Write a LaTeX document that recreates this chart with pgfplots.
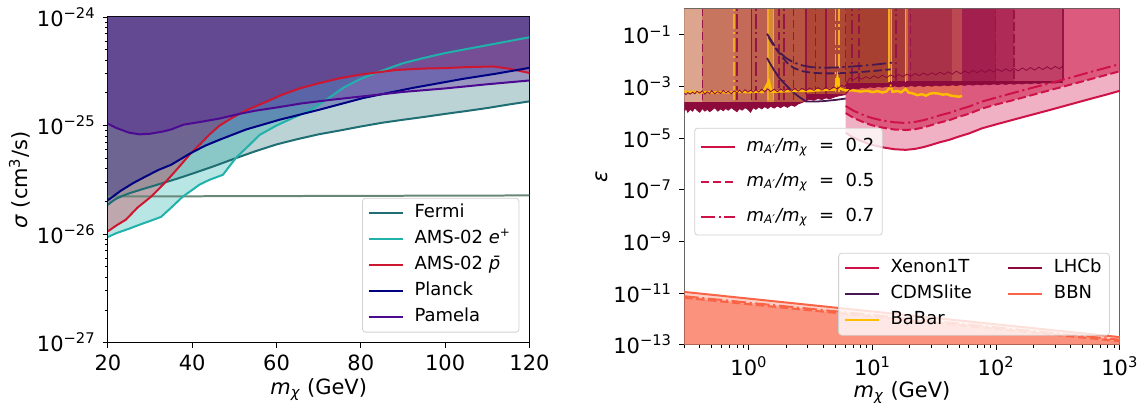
\documentclass[border=0pt]{standalone}
\usepackage{fontspec}
\setmainfont{DejaVu Sans}
\usepackage{pgfplots}
\usepackage{pgfplotstable}
\pgfplotsset{compat=1.18}
\usepgfplotslibrary{fillbetween}

\definecolor{cfermi}{RGB}{31,110,116}
\definecolor{camse}{RGB}{32,178,170}
\definecolor{camsp}{RGB}{205,22,48}
\definecolor{cplanck}{RGB}{0,0,130}
\definecolor{cpamela}{RGB}{75,10,145}
\definecolor{crelic}{RGB}{105,135,120}
\definecolor{cxenon}{RGB}{206,18,72}
\definecolor{clhcb}{RGB}{140,10,60}
\definecolor{cvline}{RGB}{150,20,70}
\definecolor{ccdms}{RGB}{72,24,80}
\definecolor{cbabar}{RGB}{255,190,0}
\definecolor{cbabv}{RGB}{240,170,40}
\definecolor{cbbn}{RGB}{250,100,70}
\definecolor{cbaborange}{RGB}{235,120,55}
\definecolor{ba}{RGB}{219,165,142}
\definecolor{bb}{RGB}{200,117,96}
\definecolor{bc}{RGB}{196,106,88}
\definecolor{bd}{RGB}{190,96,80}
\definecolor{be}{RGB}{216,136,58}
\definecolor{bf}{RGB}{184,84,66}
\definecolor{bg}{RGB}{176,72,56}
\definecolor{bh}{RGB}{168,64,50}
\definecolor{bi}{RGB}{208,112,32}
\definecolor{bj}{RGB}{168,58,58}
\definecolor{bk}{RGB}{208,106,48}
\definecolor{bl}{RGB}{170,50,72}
\definecolor{bm}{RGB}{188,72,82}
\definecolor{bn}{RGB}{163,32,78}
\definecolor{bo}{RGB}{176,42,88}
\definecolor{bp}{RGB}{192,64,104}

\tikzset{mpldash/.style={dash pattern=on 4.2pt off 1.8pt},
         mpldashdot/.style={dash pattern=on 7.2pt off 1.8pt on 1.1pt off 1.8pt}}

% ---------- left panel data ----------
\pgfplotstableread{
x y
20 1.86e-26
21 2.0e-26
22 2.12e-26
23.5 2.25e-26
25 2.37e-26
28 2.58e-26
30 2.72e-26
33 2.95e-26
36 3.2e-26
40 3.6e-26
45 4.2e-26
50 4.95e-26
55 5.8e-26
60 6.7e-26
65 7.5e-26
70 8.3e-26
75 9.0e-26
80 9.8e-26
85 1.06e-25
90 1.13e-25
95 1.2e-25
100 1.28e-25
105 1.36e-25
110 1.45e-25
115 1.56e-25
120 1.67e-25
}\tfermi
\pgfplotstableread{
x y
20 9.4e-27
22 1.02e-26
25 1.12e-26
28 1.24e-26
30 1.32e-26
32.6 1.44e-26
35 1.75e-26
37.8 2.22e-26
40 2.55e-26
41.7 2.85e-26
44 3.15e-26
47.3 3.52e-26
49 4.3e-26
50.5 5.1e-26
53 6.3e-26
56 8.2e-26
60 1.0e-25
64 1.18e-25
68 1.38e-25
72 1.75e-25
76 2.25e-25
80 2.7e-25
85 3.2e-25
90 3.75e-25
95 4.2e-25
100 4.65e-25
110 5.5e-25
120 6.5e-25
}\tamse
\pgfplotstableread{
x y
20 1.06e-26
22 1.2e-26
24.3 1.36e-26
27 1.75e-26
30.3 2.22e-26
33.8 3.05e-26
36.5 4.0e-26
39.4 5.4e-26
42 6.8e-26
44 8.2e-26
46.5 1.0e-25
49.5 1.18e-25
52.8 1.38e-25
57.5 1.65e-25
61 1.9e-25
65.5 2.2e-25
70 2.45e-25
74.9 2.72e-25
80 2.95e-25
88.4 3.25e-25
95 3.35e-25
100 3.38e-25
105 3.45e-25
111.3 3.5e-25
115 3.35e-25
120 3.05e-25
}\tamsp
\pgfplotstableread{
x y
20 2.05e-26
23 2.5e-26
26 2.95e-26
29 3.4e-26
32 3.9e-26
35 4.35e-26
39.4 5.5e-26
43 6.5e-26
46.5 7.4e-26
52.8 9.2e-26
60.7 1.13e-25
70.2 1.4e-25
80.5 1.79e-25
92.3 2.22e-25
104.2 2.69e-25
112 3.0e-25
120 3.4e-25
}\tplanck
\pgfplotstableread{
x y
20 1.04e-25
22 9.5e-26
25 8.6e-26
27.5 8.3e-26
30 8.4e-26
33 8.8e-26
35 9.2e-26
38 1.02e-25
42 1.08e-25
46.5 1.16e-25
51.2 1.28e-25
55 1.37e-25
60.7 1.48e-25
66 1.6e-25
72.6 1.72e-25
82.8 1.9e-25
90 2.04e-25
100.2 2.2e-25
110 2.4e-25
120 2.6e-25
}\tpamela

% ---------- right panel data ----------
\pgfplotstableread{
x s d dd
6.06 1.6e-5 9.3e-5 1.75e-4
7 1.05e-5 6.1e-5 1.15e-4
8 7.9e-6 4.6e-5 8.7e-5
9 6.3e-6 3.65e-5 6.9e-5
10 5.4e-6 3.1e-5 5.9e-5
12 4.4e-6 2.55e-5 4.8e-5
15 3.7e-6 2.15e-5 4.1e-5
18.5 3.5e-6 2.05e-5 3.85e-5
22 3.8e-6 2.2e-5 4.2e-5
26 4.5e-6 2.6e-5 5.0e-5
30 5.5e-6 3.2e-5 6.0e-5
35 6.9e-6 4.0e-5 7.6e-5
41.5 8.5e-6 4.9e-5 9.4e-5
50 1.15e-5 6.7e-5 1.27e-4
60 1.5e-5 8.7e-5 1.65e-4
77 2.4e-5 1.4e-4 2.6e-4
100 3.4e-5 2.0e-4 3.7e-4
150 5.75e-5 3.3e-4 6.3e-4
200 8.3e-5 4.8e-4 9.1e-4
267 1.2e-4 7.0e-4 1.3e-3
400 2.04e-4 1.18e-3 2.2e-3
600 3.47e-4 2.0e-3 3.8e-3
800 5.0e-4 2.9e-3 5.5e-3
1000 6.8e-4 3.9e-3 7.4e-3
}\txenon
\pgfplotstableread{
x u l
0.300 5.5e-4 1.1e-4
0.310 4.8e-4 1.4e-4
0.320 5.8e-4 1.0e-4
0.335 5.0e-4 1.3e-4
0.350 6.0e-4 1.1e-4
0.365 5.2e-4 1.5e-4
0.380 6.5e-4 1.2e-4
0.400 5.5e-4 1.0e-4
0.420 6.8e-4 1.4e-4
0.440 5.0e-4 1.1e-4
0.460 6.2e-4 1.3e-4
0.480 5.3e-4 1.05e-4
0.500 6.8e-4 1.2e-4
0.530 5.2e-4 1.5e-4
0.560 6.3e-4 1.1e-4
0.590 5.4e-4 1.35e-4
0.620 7.0e-4 1.15e-4
0.650 5.6e-4 1.4e-4
0.680 6.5e-4 1.2e-4
0.720 5.2e-4 1.5e-4
0.760 6.8e-4 1.25e-4
0.800 5.6e-4 1.05e-4
0.840 7.2e-4 1.4e-4
0.880 5.8e-4 1.2e-4
0.930 7.5e-4 1.5e-4
0.980 6.0e-4 1.3e-4
1.030 7.2e-4 1.0e-4
1.080 6.0e-4 1.5e-4
1.140 7.5e-4 1.3e-4
1.200 6.0e-4 1.6e-4
1.270 7.8e-4 1.35e-4
1.340 6.2e-4 1.65e-4
1.420 8.0e-4 1.4e-4
1.500 6.3e-4 1.7e-4
1.600 7.8e-4 1.45e-4
1.700 6.2e-4 1.75e-4
1.800 8.0e-4 1.5e-4
1.920 6.4e-4 1.8e-4
2.050 8.2e-4 1.55e-4
2.200 6.5e-4 1.9e-4
2.350 8.4e-4 1.7e-4
2.500 6.6e-4 2.1e-4
2.700 8.5e-4 2.4e-4
2.900 6.8e-4 2.8e-4
3.100 8.8e-4 3.2e-4
3.350 7.0e-4 2.9e-4
3.600 9.0e-4 3.4e-4
3.900 7.2e-4 3.1e-4
4.200 9.2e-4 3.6e-4
4.500 7.4e-4 3.3e-4
4.850 9.5e-4 3.8e-4
5.200 8.0e-4 4.2e-4
5.600 1.1e-3 4.5e-4
6.000 1.0e-3 4.8e-4
6.5 2.1e-3 7.5e-4
7.0 1.75e-3 8.5e-4
7.6 2.3e-3 8.0e-4
8.2 1.9e-3 9.2e-4
8.8 2.4e-3 8.6e-4
9.5 2.0e-3 9.6e-4
10.3 2.6e-3 9.0e-4
11.1 2.1e-3 1.0e-3
12.0 2.7e-3 9.3e-4
13.0 2.2e-3 1.02e-3
14.0 2.8e-3 9.5e-4
15.1 2.3e-3 1.05e-3
16.3 2.9e-3 9.6e-4
17.6 2.4e-3 1.05e-3
19.0 3.0e-3 9.8e-4
20.5 2.5e-3 1.08e-3
22.1 3.2e-3 1.0e-3
23.9 2.6e-3 1.1e-3
25.8 3.3e-3 1.0e-3
27.9 2.7e-3 1.1e-3
30.1 3.4e-3 1.02e-3
32.5 2.8e-3 1.12e-3
35.1 3.6e-3 1.04e-3
37.9 2.9e-3 1.14e-3
40.9 3.7e-3 1.06e-3
44.2 3.0e-3 1.16e-3
47.7 3.9e-3 1.08e-3
51.5 3.1e-3 1.18e-3
55.6 4.0e-3 1.1e-3
60.0 3.2e-3 1.2e-3
64.8 4.2e-3 1.12e-3
70.0 3.4e-3 1.22e-3
75.6 4.3e-3 1.14e-3
81.6 3.5e-3 1.24e-3
88.1 4.5e-3 1.16e-3
95.1 3.6e-3 1.26e-3
102.7 4.6e-3 1.18e-3
110.9 3.8e-3 1.28e-3
119.7 4.8e-3 1.2e-3
129.3 3.9e-3 1.3e-3
139.6 5.0e-3 1.22e-3
150.7 4.0e-3 1.32e-3
162.7 5.2e-3 1.25e-3
175.7 4.2e-3 1.35e-3
189.7 5.4e-3 1.28e-3
204.8 4.3e-3 1.38e-3
221.1 5.6e-3 1.3e-3
238.7 4.5e-3 1.4e-3
257.7 5.8e-3 1.32e-3
278.2 4.6e-3 1.42e-3
300.3 6.0e-3 1.35e-3
324.2 4.8e-3 1.45e-3
345 6.2e-3 1.4e-3
}\tlhcb
\pgfplotstableread{
x y
0.30 6.5e-4
0.33 6.0e-4
0.36 6.2e-4
0.40 5.8e-4
0.45 6.0e-4
0.50 5.8e-4
0.60 6.0e-4
0.70 5.8e-4
0.80 6.2e-4
1.00 6.0e-4
1.20 6.3e-4
1.30 6.0e-4
1.45 1.6e-3
1.52 6.2e-4
2.0 6.5e-4
2.5 6.8e-4
3.0 6.6e-4
3.5 7.0e-4
4.0 7.2e-4
4.6 7.5e-4
5.0 7.6e-4
5.2 2.2e-3
5.4 8.5e-4
6 7.0e-4
7 7.0e-4
8 6.3e-4
9 6.8e-4
10 6.0e-4
11 6.6e-4
12 5.8e-4
13 6.4e-4
14 1.0e-3
14.5 6.2e-4
16 6.6e-4
17 5.9e-4
18.5 8.0e-4
19.5 5.8e-4
21 5.4e-4
23 4.6e-4
25 5.0e-4
27 4.4e-4
29 5.2e-4
31 5.5e-4
34 5.3e-4
37 4.8e-4
40 5.0e-4
43 4.4e-4
46 4.2e-4
50 4.0e-4
53 4.3e-4
}\tbabar

\pgfplotsset{
  mpl/.style={
    scale only axis, tick align=outside, tick pos=left,
    major tick length=2.6pt, minor tick length=1.5pt,
    every tick/.style={black, line width=0.45pt},
    axis line style={line width=0.5pt},
    tick label style={font=\fontsize{10.5}{12}\selectfont},
    label style={font=\fontsize{10.5}{12}\selectfont},
  },
  mpllegend/.style={
    legend cell align=left,
    legend style={draw=black!18, fill=white, fill opacity=0.8, text opacity=1,
      rounded corners=1.5pt, font=\fontsize{9}{10.8}\selectfont,
      inner xsep=2.5pt, inner ysep=1.5pt, row sep=1pt,
      nodes={inner sep=1.5pt, text height=6.8pt, text depth=2.2pt},
      /tikz/every odd column/.append style={column sep=4pt}},
    legend image code/.code={\draw[line width=1pt,##1] (0pt,0pt) -- (17pt,0pt);},
  },
}

\begin{document}
\begin{tikzpicture}
\path (0,0) rectangle (572.5pt,204pt);

% ================= LEFT =================
\begin{axis}[mpl, mpllegend,
  at={(54pt,32.5pt)}, anchor=south west, width=211pt, height=163pt,
  xmin=20, xmax=120, ymode=log, ymin=1e-27, ymax=1e-24,
  xtick={20,40,60,80,100,120}, xticklabels={20,40,60,80,100,120},
  ytick={1e-27,1e-26,1e-25,1e-24},
  yticklabels={10\textsuperscript{−27},10\textsuperscript{−26},10\textsuperscript{−25},10\textsuperscript{−24}},
  minor ytick={2e-27,3e-27,4e-27,5e-27,6e-27,7e-27,8e-27,9e-27,2e-26,3e-26,4e-26,5e-26,6e-26,7e-26,8e-26,9e-26,2e-25,3e-25,4e-25,5e-25,6e-25,7e-25,8e-25,9e-25},
  xlabel={{\itshape m}\textsubscript{\itshape χ} (GeV)},
  ylabel={{\itshape σ} (cm\textsuperscript{3}/s)},
  xlabel style={at={(axis description cs:0.5,-0.145)}, anchor=center},
  ylabel style={at={(axis description cs:-0.209,0.5)}, anchor=center},
  legend style={at={(rel axis cs:0.976,0.031)}, anchor=south east},
]
\addplot[draw=none, name path=topL, forget plot] coordinates {(20,1e-24) (120,1e-24)};
\addplot[draw=none, name path=pF, forget plot] table {\tfermi};
\addplot[draw=none, name path=pE, forget plot] table {\tamse};
\addplot[draw=none, name path=pP, forget plot] table {\tamsp};
\addplot[draw=none, name path=pL, forget plot] table {\tplanck};
\addplot[draw=none, name path=pM, forget plot] table {\tpamela};
\addplot[fill=cfermi, fill opacity=0.3, draw=none, forget plot] fill between[of=pF and topL];
\addplot[fill=camse, fill opacity=0.32, draw=none, forget plot] fill between[of=pE and topL];
\addplot[fill=camsp, fill opacity=0.3, draw=none, forget plot] fill between[of=pP and topL];
\addplot[fill=cplanck, fill opacity=0.3, draw=none, forget plot] fill between[of=pL and topL];
\addplot[fill=cpamela, fill opacity=0.3, draw=none, forget plot] fill between[of=pM and topL];
\addplot[crelic, line width=1pt, forget plot] coordinates {(20,2.22e-26) (60,2.24e-26) (120,2.27e-26)};
\addplot[cfermi, line width=1pt] table {\tfermi}; \addlegendentry{Fermi}
\addplot[camse, line width=1pt] table {\tamse}; \addlegendentry{AMS-02 {\itshape e}\textsuperscript{+}}
\addplot[camsp, line width=1pt] table {\tamsp}; \addlegendentry{AMS-02 {\itshape p̄}}
\addplot[cplanck, line width=1pt] table {\tplanck}; \addlegendentry{Planck}
\addplot[cpamela, line width=1pt] table {\tpamela}; \addlegendentry{Pamela}
\end{axis}

% ================= RIGHT =================
\begin{axis}[mpl, mpllegend,
  at={(342.5pt,31.5pt)}, anchor=south west, width=218pt, height=168pt,
  axis line style={line width=0.5pt, black!60},
  xmode=log, ymode=log, xmin=0.3, xmax=1000, ymin=1e-13, ymax=1,
  xtick={1,10,100,1000},
  xticklabels={10\textsuperscript{0},10\textsuperscript{1},10\textsuperscript{2},10\textsuperscript{3}},
  minor xtick={0.3,0.4,0.5,0.6,0.7,0.8,0.9,2,3,4,5,6,7,8,9,20,30,40,50,60,70,80,90,200,300,400,500,600,700,800,900},
  ytick={1e-13,1e-11,1e-9,1e-7,1e-5,1e-3,1e-1},
  yticklabels={10\textsuperscript{−13},10\textsuperscript{−11},10\textsuperscript{−9},10\textsuperscript{−7},10\textsuperscript{−5},10\textsuperscript{−3},10\textsuperscript{−1}},
  xlabel={{\itshape m}\textsubscript{\itshape χ} (GeV)},
  ylabel={\itshape ε},
  xlabel style={at={(axis description cs:0.5,-0.143)}, anchor=center},
  ylabel style={at={(axis description cs:-0.19,0.5)}, anchor=center},
  legend columns=2,
  legend style={at={(rel axis cs:0.977,0.027)}, anchor=south east,
    /tikz/every even column/.append style={column sep=16pt}},
]
% named paths
\addplot[draw=none, name path=xtop, forget plot] coordinates {(6.06,1) (1000,1)};
\addplot[draw=none, name path=xs, forget plot] table[x=x,y=s] {\txenon};
\addplot[draw=none, name path=xd, forget plot] table[x=x,y=d] {\txenon};
\addplot[draw=none, name path=bbot, forget plot] coordinates {(0.3,1e-13) (1000,1e-13)};
\addplot[draw=none, name path=bns, forget plot] coordinates {(0.3,1.1e-11) (1000,1.95e-13)};
\addplot[draw=none, name path=bnd, forget plot] coordinates {(0.3,6.5e-12) (1000,1.35e-13)};
\addplot[draw=none, name path=bndd, forget plot] coordinates {(0.3,7.5e-12) (1000,1.55e-13)};
\addplot[draw=none, name path=babtop, forget plot] coordinates {(0.3,1) (53,1)};
\addplot[draw=none, name path=bab, forget plot] table {\tbabar};
\addplot[draw=none, name path=lu, forget plot] table[x=x,y=u] {\tlhcb};
\addplot[draw=none, name path=ll, forget plot] table[x=x,y=l] {\tlhcb};
% Xenon fills
\addplot[fill=cxenon, fill opacity=0.33, draw=none, forget plot] fill between[of=xs and xtop];
\addplot[fill=cxenon, fill opacity=0.55, draw=none, forget plot] fill between[of=xd and xtop];
% BBN fills
\addplot[fill=cbbn, fill opacity=0.3, draw=none, forget plot] fill between[of=bns and bbot];
\addplot[fill=cbbn, fill opacity=0.35, draw=none, forget plot] fill between[of=bndd and bbot];
\addplot[fill=cbbn, fill opacity=0.35, draw=none, forget plot] fill between[of=bnd and bbot];
% BaBar fill
\addplot[fill=cbaborange, fill opacity=0.5, draw=none, forget plot] fill between[of=bab and babtop];
% bands
\addplot[fill=ba, draw=none, forget plot] coordinates {(0.3,2.5e-4) (0.42,2.5e-4) (0.42,1) (0.3,1)};
\addplot[fill=bb, draw=none, forget plot] coordinates {(0.42,2.5e-4) (0.76,2.5e-4) (0.76,1) (0.42,1)};
\addplot[fill=bc, draw=none, forget plot] coordinates {(0.76,2.5e-4) (1.05,2.5e-4) (1.05,1) (0.76,1)};
\addplot[fill=bd, draw=none, forget plot] coordinates {(1.05,2.5e-4) (1.4,2.5e-4) (1.4,1) (1.05,1)};
\addplot[fill=be, draw=none, forget plot] coordinates {(1.4,2.5e-4) (1.6,2.5e-4) (1.6,1) (1.4,1)};
\addplot[fill=bf, draw=none, forget plot] coordinates {(1.6,2.5e-4) (2.9,2.5e-4) (2.9,1) (1.6,1)};
\addplot[fill=bg, draw=none, forget plot] coordinates {(2.9,5e-4) (6.06,5e-4) (6.06,1) (2.9,1)};
\addplot[fill=bh, draw=none, forget plot] coordinates {(6.06,1.3e-3) (13.5,1.3e-3) (13.5,1) (6.06,1)};
\addplot[fill=bi, draw=none, forget plot] coordinates {(13.5,1.6e-3) (14.3,1.6e-3) (14.3,1) (13.5,1)};
\addplot[fill=bj, draw=none, forget plot] coordinates {(14.3,1.6e-3) (18.3,1.6e-3) (18.3,1) (14.3,1)};
\addplot[fill=bk, draw=none, forget plot] coordinates {(18.3,1.6e-3) (19.2,1.6e-3) (19.2,1) (18.3,1)};
\addplot[fill=bl, draw=none, forget plot] coordinates {(19.2,1.6e-3) (44,1.6e-3) (44,1) (19.2,1)};
\addplot[fill=bm, draw=none, forget plot] coordinates {(44,1.6e-3) (53,1.6e-3) (53,1) (44,1)};
\addplot[fill=bn, draw=none, forget plot] coordinates {(53,1.6e-3) (99,1.6e-3) (99,1) (53,1)};
\addplot[fill=bo, draw=none, forget plot] coordinates {(99,1.6e-3) (139,1.6e-3) (139,1) (99,1)};
\addplot[fill=bp, draw=none, forget plot] coordinates {(139,1.6e-3) (347,1.6e-3) (347,1) (139,1)};
% vertical boundary lines
\addplot[cvline, line width=0.8pt, mpldash, forget plot] coordinates {(0.42,3e-4) (0.42,1)};
\addplot[cvline, line width=0.8pt, mpldashdot, forget plot] coordinates {(0.80,3e-4) (0.80,1)};
\addplot[cvline, line width=0.8pt, forget plot] coordinates {(1.05,3e-4) (1.05,1)};
\addplot[cvline, line width=0.8pt, mpldashdot, forget plot] coordinates {(1.14,3e-4) (1.14,1)};
\addplot[cvline, line width=0.8pt, mpldash, forget plot] coordinates {(1.75,3e-4) (1.75,1)};
\addplot[cvline, line width=0.8pt, mpldashdot, forget plot] coordinates {(1.92,3e-4) (1.92,1)};
\addplot[cvline, line width=0.8pt, mpldash, forget plot] coordinates {(2.3,3e-4) (2.3,1)};
\addplot[cvline, line width=0.8pt, forget plot] coordinates {(2.9,5e-4) (2.9,1)};
\addplot[cvline, line width=0.8pt, mpldash, forget plot] coordinates {(3.45,5e-4) (3.45,1)};
\addplot[cvline, line width=0.8pt, forget plot] coordinates {(4.2,5e-4) (4.2,1)};
\addplot[cvline, line width=0.8pt, mpldash, forget plot] coordinates {(6.06,1.5e-3) (6.06,1)};
\addplot[cvline, line width=0.8pt, mpldashdot, forget plot] coordinates {(6.8,1.5e-3) (6.8,1)};
\addplot[cvline, line width=0.8pt, mpldash, forget plot] coordinates {(7.8,1.5e-3) (7.8,1)};
\addplot[cvline, line width=0.8pt, mpldashdot, forget plot] coordinates {(15.4,1.5e-3) (15.4,1)};
\addplot[cvline, line width=0.8pt, mpldash, forget plot] coordinates {(20.3,1.5e-3) (20.3,1)};
\addplot[cvline, line width=0.8pt, mpldashdot, forget plot] coordinates {(99,2e-3) (99,1)};
\addplot[cvline, line width=0.8pt, mpldash, forget plot] coordinates {(139,2e-3) (139,1)};
\addplot[cvline, line width=0.8pt, forget plot] coordinates {(347,2e-3) (347,1)};
\addplot[cbabv, line width=0.8pt, mpldashdot, forget plot] coordinates {(0.76,3e-4) (0.76,1)};
\addplot[cbabv, line width=0.8pt, forget plot] coordinates {(1.42,3e-4) (1.42,1)};
\addplot[cbabv, line width=0.8pt, forget plot] coordinates {(1.58,3e-4) (1.58,1)};
\addplot[cbabv, line width=0.8pt, mpldashdot, forget plot] coordinates {(5.0,6e-4) (5.0,1)};
\addplot[cbabv, line width=0.8pt, mpldashdot, forget plot] coordinates {(5.35,6e-4) (5.35,1)};
\addplot[cbabv, line width=0.8pt, forget plot] coordinates {(13.6,1.5e-3) (13.6,1)};
\addplot[cbabv, line width=0.8pt, forget plot] coordinates {(14.2,1.5e-3) (14.2,1)};
\addplot[cbabv, line width=0.8pt, forget plot] coordinates {(18.5,1.5e-3) (18.5,1)};
% CDMSlite
\addplot[ccdms, line width=0.9pt, forget plot] coordinates {(1.4,1.26e-2) (1.5,7e-3) (1.6,4.2e-3) (1.75,2.2e-3) (2.0,1.1e-3) (2.2,7e-4) (2.5,4.2e-4) (2.9,2.6e-4) (3.5,2.6e-4) (4,2.7e-4) (5,3.0e-4) (6.06,3.4e-4)};
\addplot[ccdms, line width=0.9pt, mpldash, forget plot] coordinates {(1.45,7.6e-2) (1.55,4.5e-2) (1.7,2.4e-2) (1.85,1.4e-2) (2.05,8e-3) (2.3,5.2e-3) (2.7,3.9e-3) (3.2,3.4e-3) (4,3.2e-3) (5,3.2e-3) (6.5,3.4e-3) (8.5,3.7e-3) (11,4.1e-3) (14,4.6e-3)};
\addplot[ccdms, line width=0.9pt, mpldashdot, forget plot] coordinates {(1.4,1.1e-1) (1.5,6.5e-2) (1.6,4e-2) (1.75,2.2e-2) (2.0,1.25e-2) (2.3,8.5e-3) (2.7,6.5e-3) (3.2,5.6e-3) (4,5.3e-3) (5,5.4e-3) (6.5,5.8e-3) (8.5,6.4e-3) (11,7.2e-3) (14.3,8.3e-3)};
% BaBar line
\addplot[cbabar, line width=1.2pt, forget plot] table {\tbabar};
% LHCb noisy band
\addplot[fill=clhcb, draw=none, forget plot] fill between[of=lu and ll];
\addplot[clhcb, line width=0.4pt, forget plot] table[x=x,y=u] {\tlhcb};
\addplot[clhcb, line width=0.4pt, forget plot] table[x=x,y=l] {\tlhcb};
% Xenon lines
\addplot[cxenon, line width=1pt, forget plot] table[x=x,y=s] {\txenon};
\addplot[cxenon, line width=1pt, mpldash, forget plot] table[x=x,y=d] {\txenon};
\addplot[cxenon, line width=1pt, mpldashdot, forget plot] table[x=x,y=dd] {\txenon};
% BBN lines
\addplot[cbbn, line width=1pt, forget plot] coordinates {(0.3,1.1e-11) (1000,1.95e-13)};
\addplot[cbbn, line width=1pt, mpldash, forget plot] coordinates {(0.3,6.5e-12) (1000,1.35e-13)};
\addplot[cbbn, line width=1pt, mpldashdot, forget plot] coordinates {(0.3,7.5e-12) (1000,1.55e-13)};
% legend
\addlegendimage{cxenon}\addlegendentry{Xenon1T}
\addlegendimage{clhcb}\addlegendentry{LHCb}
\addlegendimage{ccdms}\addlegendentry{CDMSlite}
\addlegendimage{cbbn}\addlegendentry{BBN}
\addlegendimage{cbabar}\addlegendentry{BaBar}
\end{axis}

% second legend for the ratios
\begin{axis}[mpllegend, scale only axis, hide axis,
  at={(342.5pt,31.5pt)}, anchor=south west, width=218pt, height=168pt,
  xmin=0, xmax=1, ymin=0, ymax=1,
  legend style={at={(rel axis cs:0.023,0.646)}, anchor=north west, row sep=3pt,
    inner ysep=2pt, nodes={text height=8pt, text depth=3.5pt}},
]
\addplot[draw=none, forget plot] coordinates {(0,0) (1,1)};
\addlegendimage{cxenon}\addlegendentry{{\itshape m}\textsubscript{\itshape A′}{\itshape /m}\textsubscript{\itshape χ}\ \ =\ \ 0.2}
\addlegendimage{cxenon, mpldash}\addlegendentry{{\itshape m}\textsubscript{\itshape A′}{\itshape /m}\textsubscript{\itshape χ}\ \ =\ \ 0.5}
\addlegendimage{cxenon, mpldashdot}\addlegendentry{{\itshape m}\textsubscript{\itshape A′}{\itshape /m}\textsubscript{\itshape χ}\ \ =\ \ 0.7}
\end{axis}
\end{tikzpicture}
\end{document}
